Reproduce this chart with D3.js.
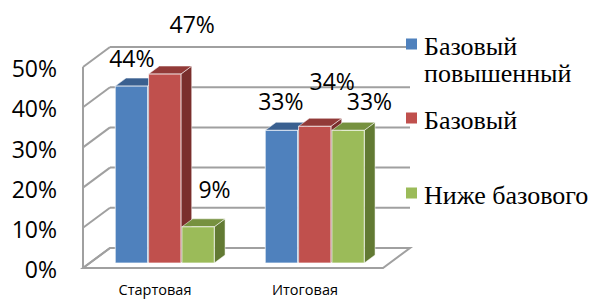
<!DOCTYPE html>
<html><head><meta charset="utf-8">
<script src="https://cdn.jsdelivr.net/npm/d3@7"></script>
<style>html,body{margin:0;padding:0;background:#fff;}svg{display:block;}</style>
</head><body>
<svg id="c" width="595" height="301"></svg>
<script>
const categories = ["Стартовая", "Итоговая"];
const seriesNames = ["Базовый повышенный", "Базовый", "Ниже базового"];
const legendLines = [["Базовый", "повышенный"], ["Базовый"], ["Ниже базового"]];
const valuesHigh = [0.44, 0.33];
const valuesBase = [0.47, 0.34];
const valuesLow = [0.09, 0.33];
const yTicks = [0, 0.1, 0.2, 0.3, 0.4, 0.5];

const seriesValues = [valuesHigh, valuesBase, valuesLow];
const colors = [
  {front:"#4F81BD", top:"#3A6090", side:"#2E4E78"},
  {front:"#C0504D", top:"#923A38", side:"#7A2E2C"},
  {front:"#9BBB59", top:"#76913F", side:"#627A33"}
];
// label nudges (dx, dy from top-face centre), mimicking the original placement
const labelNudge = [
  [[-5,-21],[-6,-22]],
  [[22,-43],[12,-38]],
  [[11,-31],[16,-22]]
];

const svg = d3.select("#c");
const DX = 27, DY = 20;
const y = d3.scaleLinear().domain([0, 0.5]).range([268, 67]);
const x0 = d3.scaleBand().domain(categories).range([83, 383]);
const groupW = 99;
const x1 = d3.scaleBand().domain(seriesNames).range([0, groupW]).paddingInner(0.03);
const P = (x, v, z) => [x + z*DX, y(v) - z*DY];
const pts = arr => arr.map(p => p.join(",")).join(" ");
const fmt = d3.format(".0%");
const grid = "#A0A0A0";

// floor
const fl = [P(83,0,0), P(383,0,0), P(383,0,1), P(83,0,1)];
svg.append("polygon").attr("points", pts(fl)).attr("fill","#fff").attr("stroke", grid).attr("stroke-width",2);
// back wall gridlines and left wall
yTicks.forEach(t => {
  if (t > 0) {
    const a = P(83,t,1), b = P(383,t,1);
    svg.append("line").attr("x1",a[0]).attr("y1",a[1]).attr("x2",b[0]).attr("y2",b[1]).attr("stroke",grid).attr("stroke-width",2);
  }
  const c = P(83,t,0), d = P(83,t,1);
  svg.append("line").attr("x1",c[0]).attr("y1",c[1]).attr("x2",d[0]).attr("y2",d[1]).attr("stroke",grid).attr("stroke-width",2);
});
{
  const a = P(83,0,0), b = P(83,0.5,0);
  svg.append("line").attr("x1",a[0]).attr("y1",a[1]).attr("x2",b[0]).attr("y2",b[1]).attr("stroke",grid).attr("stroke-width",2);
}
// y axis labels
svg.append("g").selectAll("text").data(yTicks).join("text")
  .attr("x", 57).attr("y", d => y(d) + 4).attr("text-anchor","end").attr("dominant-baseline","middle")
  .attr("font-family","'Open Sans', sans-serif").attr("font-size",23).attr("fill","#000")
  .text(d => fmt(d));

// bars
const z0 = 0.25, z1 = 0.65;
const labels = [];
categories.forEach((cat, ci) => {
  const gx = x0(cat) + (x0.bandwidth() - groupW) / 2;
  seriesNames.forEach((s, si) => {
    const v = seriesValues[si][ci];
    const xa = gx + x1(s), xb = xa + x1.bandwidth();
    const g = svg.append("g");
    g.append("polygon").attr("points", pts([P(xb,v,z0),P(xb,v,z1),P(xb,0,z1),P(xb,0,z0)]))
      .attr("fill", colors[si].side).attr("stroke","#fff").attr("stroke-opacity",0.5).attr("stroke-width",1);
    g.append("polygon").attr("points", pts([P(xa,v,z0),P(xb,v,z0),P(xb,v,z1),P(xa,v,z1)]))
      .attr("fill", colors[si].top).attr("stroke","#fff").attr("stroke-opacity",0.5).attr("stroke-width",1);
    const f1 = P(xa,v,z0), f2 = P(xb,0,z0);
    g.append("rect").attr("x",f1[0]).attr("y",f1[1]).attr("width",f2[0]-f1[0]).attr("height",f2[1]-f1[1])
      .attr("fill", colors[si].front).attr("stroke","#fff").attr("stroke-opacity",0.7).attr("stroke-width",1);
    const tc = P((xa+xb)/2, v, (z0+z1)/2);
    const n = labelNudge[si][ci];
    labels.push({x: tc[0]+n[0], y: tc[1]+n[1], t: fmt(v)});
  });
  // category label
  svg.append("text").attr("x", x0(cat) + x0.bandwidth()/2 - 3).attr("y", 291)
    .attr("text-anchor","middle").attr("dominant-baseline","middle")
    .attr("font-family","'Open Sans', sans-serif").attr("font-size",14.5).attr("fill","#000").text(cat);
});
svg.append("g").selectAll("text").data(labels).join("text")
  .attr("x", d => d.x).attr("y", d => d.y).attr("text-anchor","middle").attr("dominant-baseline","middle")
  .attr("font-family","'Open Sans', sans-serif").attr("font-size",23).attr("fill","#000").text(d => d.t);

// legend
const legY = [44, 118, 193];
seriesNames.forEach((s, i) => {
  svg.append("rect").attr("x",406).attr("y",legY[i]-5.5).attr("width",11).attr("height",11).attr("fill",colors[i].front);
  legendLines[i].forEach((ln, li) => {
    svg.append("text").attr("x",424).attr("y",legY[i] + 11 + li*27)
      .attr("font-family","'Liberation Serif', 'Times New Roman', serif").attr("font-size",26).attr("fill","#000").text(ln);
  });
});
</script>
</body></html>
